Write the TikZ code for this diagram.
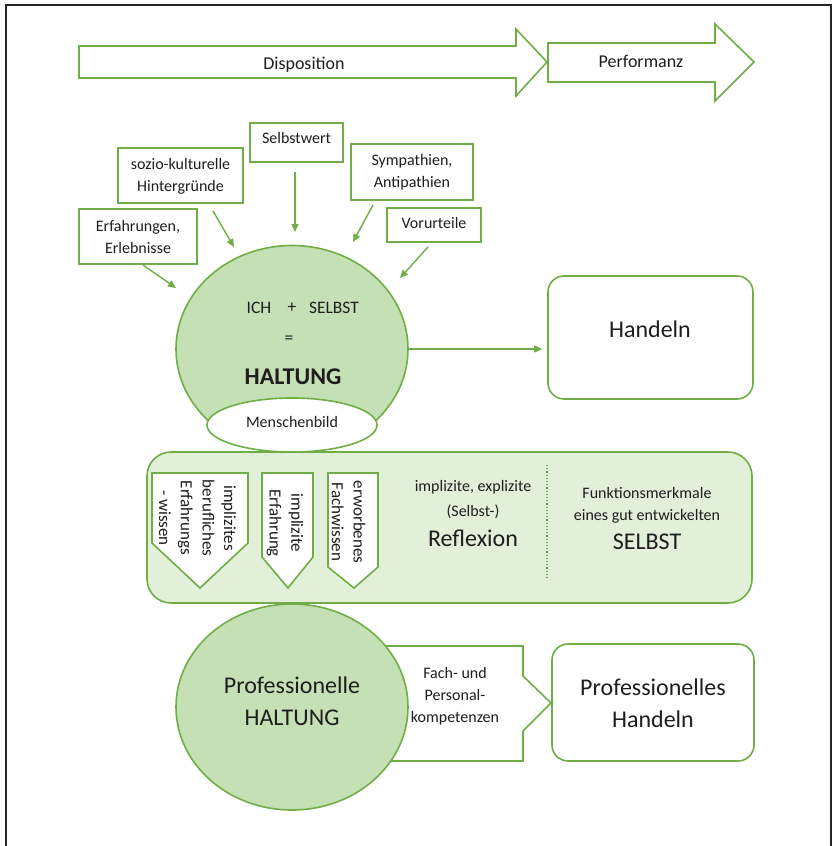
\documentclass[tikz,border=0pt]{standalone}
\usepackage{fontspec}
\setmainfont{Carlito}
\usetikzlibrary{arrows.meta,shapes.geometric}
\definecolor{gline}{HTML}{70AD47}
\definecolor{gfill}{HTML}{C5E0B4}
\definecolor{lfill}{HTML}{E2F0D9}
\definecolor{txt}{HTML}{1E1E1E}
\tikzset{
  gbox/.style={draw=gline, line width=1.6pt, fill=white, inner sep=0pt},
  rbox/.style={draw=gline, line width=1.6pt, fill=white, inner sep=0pt, rounded corners=16pt},
  lbl/.style={font=\fontsize{16}{22}\selectfont, text=txt, align=center, inner sep=0pt},
  mid/.style={font=\fontsize{17.5}{22}\selectfont, text=txt, align=center, inner sep=0pt},
  rot/.style={font=\fontsize{17}{21.7}\selectfont, text=txt, align=center, inner sep=0pt, rotate=-90},
  big/.style={font=\fontsize{24}{32}\selectfont, text=txt, align=center, inner sep=0pt},
  hdr/.style={font=\fontsize{18}{22}\selectfont, text=txt, inner sep=0pt},
  arr/.style={draw=gline, line width=1.4pt, -{Triangle[length=8pt,width=7pt]}},
  gshape/.style={draw=gline, line width=1.6pt, fill=white, line join=miter},
}
\begin{document}
\begin{tikzpicture}[x=1pt,y=-1pt]
\useasboundingbox (0,0) rectangle (837,846);
% frame
\draw[line width=1.5pt, black!85] (6,846) -- (6,5) -- (831,5) -- (831,846);

% top arrows
\draw[gshape] (79,46) -- (516,46) -- (516,29) -- (547,62) -- (516,96) -- (516,78) -- (79,78) -- cycle;
\draw[gshape] (548,43) -- (715,43) -- (715,24) -- (754,62) -- (715,101) -- (715,82) -- (548,82) -- cycle;
\node[hdr] (disp) at (304,65) {Disposition};
\node[hdr] (perf) at (641,61) {Performanz};

% influence boxes
\node[gbox, minimum width=93pt, minimum height=39pt] (bselbst) at (296.5,142.5) {};
\node[lbl] (tselbst) at (296.5,138) {Selbstwert};
\node[gbox, minimum width=125pt, minimum height=55pt] (bsozio) at (180.5,175.5) {};
\node[lbl] (tsozio) at (180.5,176) {sozio-kulturelle\\Hintergründe};
\node[gbox, minimum width=122pt, minimum height=56pt] (bsym) at (412,172) {};
\node[lbl] (tsym) at (412,172) {Sympathien,\\Antipathien};
\node[gbox, minimum width=118pt, minimum height=55pt] (berf) at (138,236.5) {};
\node[lbl] (terf) at (138,237) {Erfahrungen,\\Erlebnisse};
\node[gbox, minimum width=94pt, minimum height=34pt] (bvor) at (434,225) {};
\node[lbl] (tvor) at (434,223) {Vorurteile};

% Haltung
\node[ellipse, draw=gline, line width=1.6pt, fill=gfill, minimum width=232pt, minimum height=207pt, inner sep=0pt] (haltung) at (292,349) {};

% arrows into Haltung
\coordinate (s1) at (295,172); \coordinate (e1) at (295,232);
\coordinate (s2) at (213,211); \coordinate (e2) at (234,247);
\coordinate (s3) at (373,205); \coordinate (e3) at (353,242);
\coordinate (s4) at (143,265); \coordinate (e4) at (176,288);
\coordinate (s5) at (428,247); \coordinate (e5) at (400,278);
\draw[arr] (s1) -- (e1);
\draw[arr] (s2) -- (e2);
\draw[arr] (s3) -- (e3);
\draw[arr] (s4) -- (e4);
\draw[arr] (s5) -- (e5);

% reflection band
\node[draw=gline, line width=1.6pt, fill=lfill, rounded corners=24pt, minimum width=605pt, minimum height=151pt, inner sep=0pt] (band) at (449.5,527.5) {};

\node[ellipse, draw=gline, line width=1.6pt, fill=white, minimum width=170pt, minimum height=54pt, inner sep=0pt] (mensch) at (292,425) {};
\node[lbl] (tmensch) at (292,422) {Menschenbild};

\node[mid] (tich) at (259,308) {ICH};
\node[mid] (tplus) at (292,308) {+};
\node[mid] (tselbst2) at (334,308) {SELBST};
\node[mid] (teq) at (289,340) {=};
\node[big, font=\fontsize{24}{32}\selectfont\bfseries] (thalt) at (293,377) {HALTUNG};

% Handeln
\node[rbox, minimum width=205pt, minimum height=123pt] (handeln) at (650.5,337.5) {};
\node[big] (thandeln) at (650,329) {Handeln};
\draw[arr, shorten >=5pt] (haltung.east) -- (haltung.east -| handeln.west);

% pentagons
\draw[gshape] (152,473) -- (248,473) -- (248,543) -- (200,588) -- (152,543) -- cycle;
\draw[gshape] (262,473) -- (313,473) -- (313,557) -- (288,588) -- (262,557) -- cycle;
\draw[gshape] (328,473) -- (378,473) -- (378,567) -- (354,588) -- (328,567) -- cycle;
\node[rot] (tp1) at (197.5,518) {implizites\\berufliches\\Erfahrungs\\- wissen};
\node[rot] (tp2) at (285,523) {implizite\\Erfahrung};
\node[rot] (tp3) at (348.5,522) {erworbenes\\Fachwissen};

\node[lbl] (trefl1) at (473,487) {implizite, explizite};
\node[lbl] (trefl2) at (473,512) {(Selbst-)};
\node[big] (trefl3) at (473,538) {Reflexion};
\draw[gline, dotted, line width=1.2pt] (547,465) -- (547,580);
\node[lbl] (tfunk1) at (647,493) {Funktionsmerkmale};
\node[lbl] (tfunk2) at (647,516) {eines gut entwickelten};
\node[big] (tfunk3) at (647,542) {SELBST};

% Fach arrow (behind circle)
\draw[gshape] (380,646) -- (523,646) -- (523,676) -- (551,703) -- (523,731) -- (523,761) -- (380,761) -- cycle;
\node[ellipse, draw=gline, line width=1.6pt, fill=gfill, minimum width=232pt, minimum height=206pt, inner sep=0pt] (prof) at (292,707) {};
\node[big] (tprof) at (292,701) {Professionelle\\HALTUNG};
\node[lbl] (tfach) at (455,696) {Fach- und\\Personal-\\kompetenzen};

\node[rbox, minimum width=202pt, minimum height=117pt] (phandeln) at (653,702.5) {};
\node[big] (tphandeln) at (653,703) {Professionelles\\Handeln};
\end{tikzpicture}
\end{document}
